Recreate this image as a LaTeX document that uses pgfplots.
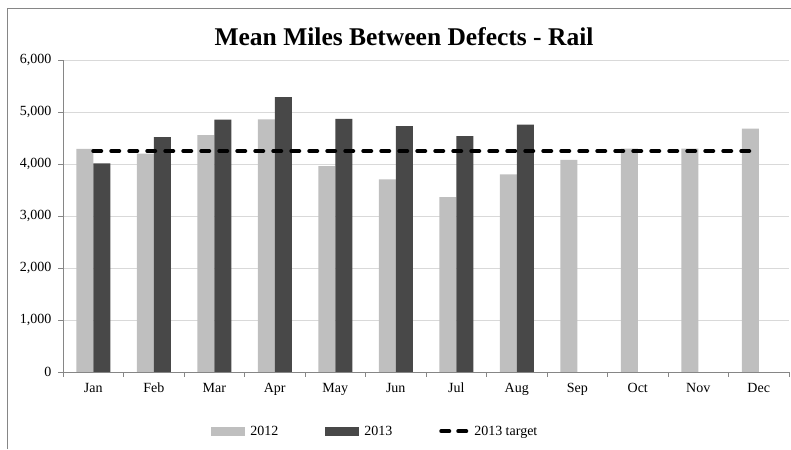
\documentclass[border=0pt]{standalone}
\usepackage{pgfplots}
\pgfplotsset{compat=1.18}
\usepackage{fontspec}
\setmainfont{Liberation Serif}
\definecolor{cA}{HTML}{BFBFBF}
\definecolor{cB}{HTML}{484848}
\definecolor{gridc}{HTML}{D9D9D9}
\definecolor{axc}{HTML}{868686}
\begin{document}
\begin{tikzpicture}
\path[use as bounding box] (0pt,0pt) rectangle (791pt,449pt);
\draw[axc, line width=0.8pt] (7pt,0pt) -- (7pt,441pt) -- (791pt,441pt);
\node[font=\bfseries\fontsize{25.5}{28}\selectfont] at (404pt,412pt) {Mean Miles Between Defects - Rail};
\begin{axis}[
  at={(63pt,77pt)}, anchor=south west,
  scale only axis, width=726pt, height=312pt,
  xmin=-0.5, xmax=11.5, ymin=0, ymax=6000,
  axis x line*=bottom, axis y line*=left,
  x axis line style={-, axc}, y axis line style={-, axc},
  xtick={0,...,11},
  xticklabels={Jan,Feb,Mar,Apr,May,Jun,Jul,Aug,Sep,Oct,Nov,Dec},
  major x tick style={draw=none},
  minor xtick={-0.5,0.5,...,11.5},
  minor x tick style={axc},
  ytick={0,1000,...,6000},
  y tick style={axc},
  tick align=outside, major tick length=5pt, minor tick length=5pt,
  ymajorgrids, grid style={gridc, line width=0.9pt},
  scaled y ticks=false,
  /pgf/number format/assume math mode=true,
  /pgf/number format/1000 sep={,},
  tick label style={font=\fontsize{14}{16}\selectfont},
  xticklabel style={yshift=-2pt, text height=9.5pt, text depth=3pt},
  yticklabel style={xshift=-3pt},
  legend columns=3,
  legend style={at={(0.1998,-0.19)}, anchor=west, draw=none, fill=none,
    font=\fontsize{14}{16}\selectfont,
    /tikz/every odd column/.append style={column sep=3pt},
    /tikz/every even column/.append style={column sep=45pt}},
  legend cell align=left,
]
\addplot[ybar, bar width=17pt, bar shift=-8.5pt, fill=cA, draw=none,
  legend image code/.code={\fill[cA] (0pt,-4.5pt) rectangle (34pt,4.5pt);}]
  coordinates {(0,4290) (1,4200) (2,4555) (3,4860) (4,3960) (5,3705) (6,3365) (7,3800) (8,4080) (9,4295) (10,4295) (11,4680)};
\addlegendentry{2012}
\addplot[ybar, bar width=17pt, bar shift=8.5pt, fill=cB, draw=none,
  legend image code/.code={\fill[cB] (0pt,-4.5pt) rectangle (34pt,4.5pt);}]
  coordinates {(0,4010) (1,4515) (2,4855) (3,5285) (4,4870) (5,4730) (6,4535) (7,4755)};
\addlegendentry{2013}
\addplot[sharp plot, black, line width=4pt, line cap=round, dash pattern=on 8pt off 10pt,
  legend image code/.code={\draw[black, line width=4pt, line cap=round] (2pt,0pt) -- (11pt,0pt) (19pt,0pt) -- (28pt,0pt);}]
  coordinates {(0,4250) (11,4250)};
\addlegendentry{2013 target}
\end{axis}
\end{tikzpicture}
\end{document}
